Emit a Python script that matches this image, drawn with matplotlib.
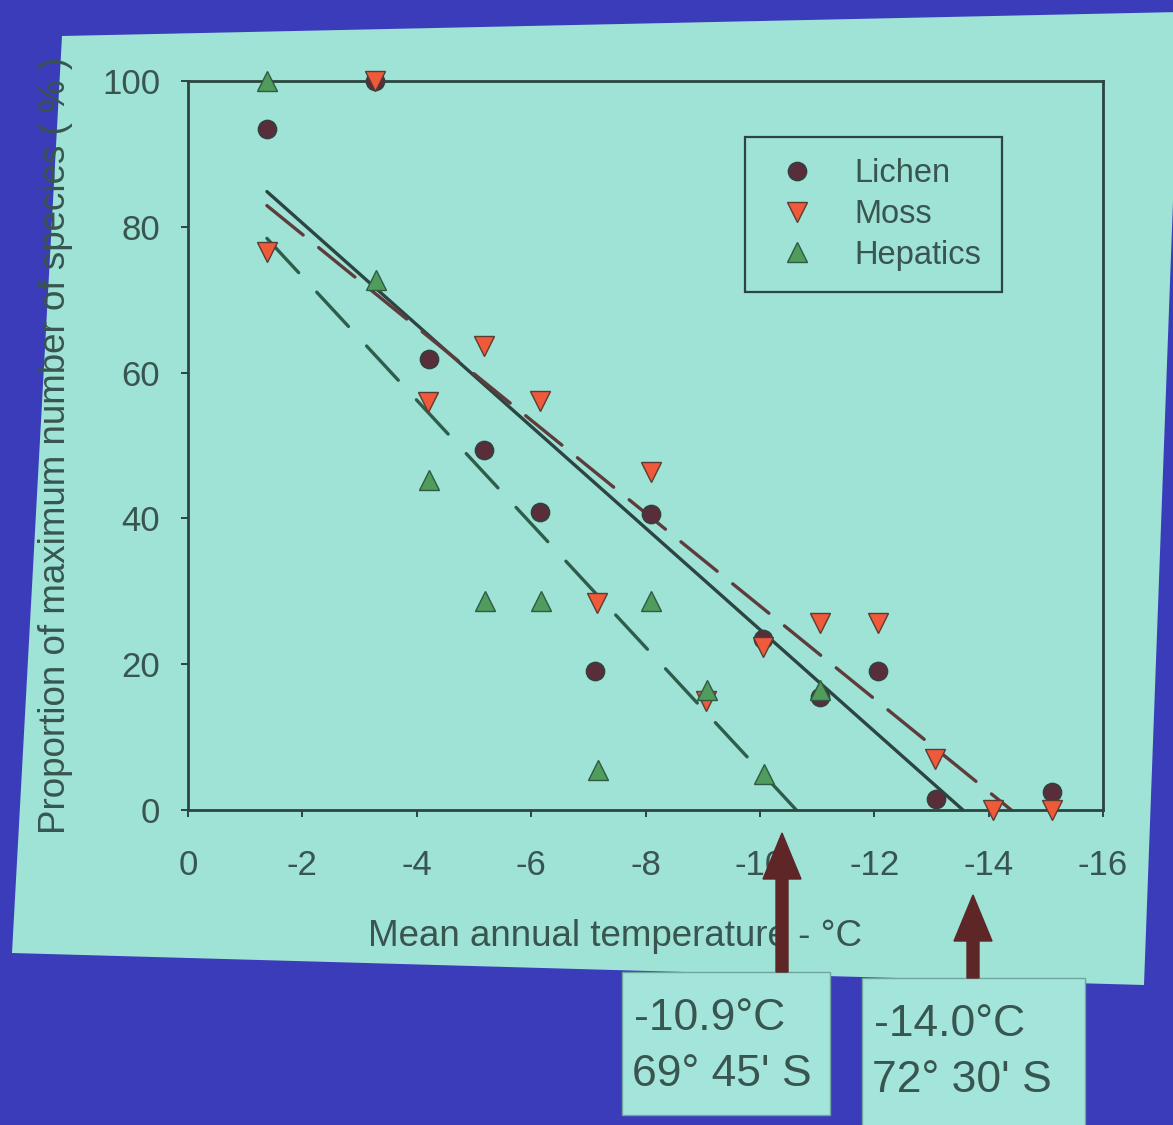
import matplotlib
matplotlib.use("Agg")
import matplotlib.pyplot as plt
from matplotlib.patches import Polygon, Rectangle, FancyArrow

plt.rcParams['axes.unicode_minus'] = False
plt.rcParams['font.family'] = ['Liberation Sans', 'DejaVu Sans']

# ---------------- data ----------------
x_ticks = [0, -2, -4, -6, -8, -10, -12, -14, -16]
x_ticklabels = ["0", "-2", "-4", "-6", "-8", "-10", "-12", "-14", "-16"]
y_ticks = [0, 20, 40, 60, 80, 100]

lichen_x = [-1.38, -3.27, -4.21, -5.18, -6.16, -7.12, -8.09, -10.05, -11.06, -12.06, -13.08, -15.1]
lichen_y = [93.4, 100.0, 61.8, 49.4, 40.9, 19.0, 40.6, 23.5, 15.5, 19.0, 1.5, 2.5]

moss_x = [-1.38, -3.27, -4.20, -5.18, -6.16, -7.15, -8.09, -9.06, -10.05, -11.05, -12.06, -13.07, -14.08, -15.1]
moss_y = [76.5, 100.0, 56.0, 63.7, 56.1, 28.4, 46.3, 15.0, 22.4, 25.6, 25.6, 7.0, 0.0, 0.0]

hep_x = [-1.38, -3.28, -4.21, -5.20, -6.17, -7.17, -8.09, -9.07, -10.07, -11.05]
hep_y = [100.0, 72.7, 45.3, 28.7, 28.7, 5.5, 28.7, 16.5, 5.0, 16.5]

# regression lines: y = intercept + slope * x, drawn from first sample to y = 0
fit_start = -1.38
lichen_fit = (94.45, 6.97)
moss_fit = (91.7, 6.37)
hep_fit = (90.1, 8.47)

box_texts = [("-10.9\u00b0C", "69\u00b0 45' S"), ("-14.0\u00b0C", "72\u00b0 30' S")]

# ---------------- styling ----------------
W, H = 1173, 1125
BLUE = '#3b3cba'
PANEL = '#9fe2d6'
TXT = '#38554f'
DARK = '#2c4540'

fig = plt.figure(figsize=(W / 100, H / 100), dpi=100, facecolor=BLUE)

# background panel (the projected slide)
bg = fig.add_axes([0, 0, 1, 1], zorder=0)
bg.set_xlim(0, W)
bg.set_ylim(H, 0)
bg.axis('off')
bg.add_patch(Polygon([(62, 36), (1180, 12), (1144, 985), (12, 953)],
                     closed=True, facecolor=PANEL, edgecolor='none'))

# main axes
L, R, T, B = 188, 1103, 81, 810
ax = fig.add_axes([L / W, 1 - B / H, (R - L) / W, (B - T) / H], zorder=2)
ax.set_facecolor('none')


def fit_line(fit):
    a, b = fit
    x_end = -a / b
    xs = [fit_start, x_end]
    ys = [a + b * x for x in xs]
    return xs, ys


lx, ly = fit_line(lichen_fit)
mx, my = fit_line(moss_fit)
hx, hy = fit_line(hep_fit)
ax.plot(lx, ly, color=DARK, lw=2.4, solid_capstyle='round', zorder=2)
ax.plot(mx, my, color='#5e3c3c', lw=2.4, dashes=(14, 6), dash_capstyle='round', zorder=2)
ax.plot(hx, hy, color='#2f5d4c', lw=2.4, dashes=(14, 8), dash_capstyle='round', zorder=2)

ax.plot(lichen_x, lichen_y, 'o', ms=13, mfc='#5a2d3a', mec='#34403c', mew=1.2,
        ls='none', clip_on=False, zorder=4, label='Lichen')
ax.plot(moss_x, moss_y, 'v', ms=15, mfc='#ee5a3a', mec='#5b3c33', mew=1.0,
        ls='none', clip_on=False, zorder=4, label='Moss')
ax.plot(hep_x, hep_y, '^', ms=15, mfc='#4f9c5c', mec='#2f5a44', mew=1.0,
        ls='none', clip_on=False, zorder=5, label='Hepatics')

ax.set_xlim(0, -16)
ax.set_ylim(0, 100)
ax.set_xticks(x_ticks)
ax.set_xticklabels(x_ticklabels)
ax.set_yticks(y_ticks)

for s in ax.spines.values():
    s.set_color(DARK)
    s.set_linewidth(2.0)

ax.tick_params(axis='both', direction='out', length=5, width=1.4, colors=DARK,
               labelcolor=TXT, labelsize=25)
ax.tick_params(axis='y', pad=15)
ax.tick_params(axis='x', pad=23)

ax.set_xlabel("Mean annual temperature - \u00b0C", fontsize=26.5, color=TXT)
ax.xaxis.label.set_va('center')
ax.xaxis.set_label_coords((615 - L) / (R - L), -(937 - B) / (B - T))
ax.set_ylabel("Proportion of maximum number of species ( % )", fontsize=26.5, color=TXT)
ax.yaxis.label.set_va('center')
ax.yaxis.set_label_coords((56 - L) / (R - L), 0.5)

leg = ax.legend(loc='upper left', bbox_to_anchor=((745 - L) / (R - L), (B - 137) / (B - T)),
                fontsize=23.5, frameon=True, fancybox=False, framealpha=1,
                facecolor=PANEL, edgecolor=DARK, borderpad=0.65, labelspacing=0.3,
                handlelength=1.9, handletextpad=0.8, borderaxespad=0, labelcolor=TXT)
leg.get_frame().set_linewidth(1.6)

# foreground overlay: callout boxes and arrows
fg = fig.add_axes([0, 0, 1, 1], zorder=10)
fg.set_xlim(0, W)
fg.set_ylim(H, 0)
fg.axis('off')
fg.patch.set_alpha(0)

boxes = [(622, 972, 208, 143), (862, 978, 223, 150)]
arrows = [(782, 972, 833), (973, 978, 895)]
for (bx, by, bw, bh), (t1, t2) in zip(boxes, box_texts):
    fg.add_patch(Rectangle((bx, by), bw, bh, facecolor='#a4e5db', edgecolor='#6fa79e', lw=1.0))
    fg.text(bx + 12, by + 46, t1, fontsize=32, color=TXT, ha='left', va='center')
    fg.text(bx + 10, by + 102, t2, fontsize=32, color=TXT, ha='left', va='center')

for x0, y0, y1 in arrows:
    fg.add_patch(FancyArrow(x0, y0, 0, y1 - y0, width=12, head_width=38, head_length=46,
                            length_includes_head=True, color='#5e2626'))

fig.savefig("out.png", dpi=100, facecolor=BLUE)
